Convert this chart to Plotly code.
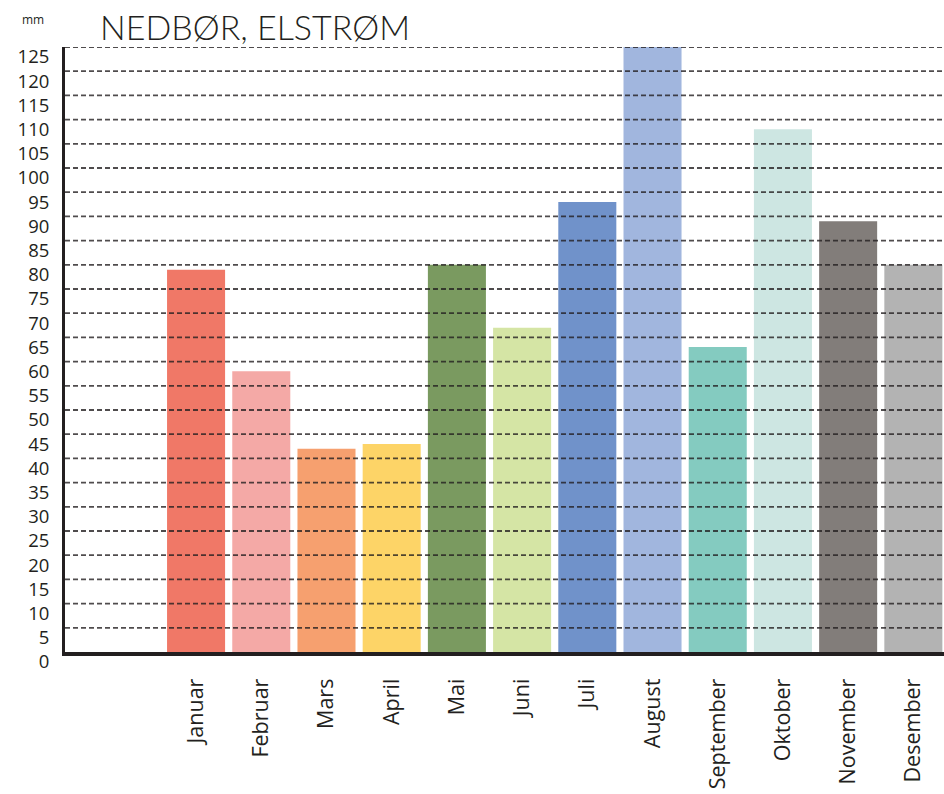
import plotly.graph_objects as go

months = ["Januar", "Februar", "Mars", "April", "Mai", "Juni", "Juli",
          "August", "September", "Oktober", "November", "Desember"]
values = [79, 58, 42, 43, 80, 67, 93, 125, 63, 108, 89, 80]
colors = ["#F07867", "#F4A9A6", "#F6A06F", "#FDD467", "#7A9A60", "#D5E5A5",
          "#7092CA", "#A1B6DE", "#84CBC0", "#CDE6E2", "#827D7A", "#B3B3B3"]
y_ticks = list(range(0, 130, 5))

fig = go.Figure(go.Bar(x=months, y=values, marker=dict(color=colors, line=dict(width=0))))

shapes = []
for t in y_ticks[1:]:
    shapes.append(dict(type="line", xref="paper", x0=0, x1=1, yref="y", y0=t, y1=t,
                       layer="above", line=dict(color="rgba(35,31,32,0.8)", width=1.8, dash="5px,3px")))

fig.update_layout(
    width=944, height=794,
    margin=dict(l=65, r=0, t=47, b=142),
    paper_bgcolor="white", plot_bgcolor="white",
    bargap=0.11,
    showlegend=False,
    shapes=shapes,
    font=dict(family="Open Sans", color="#231f20"),
    xaxis=dict(type="category", range=[-2.01, 11.47], tickangle=-90,
               showgrid=False, showline=True, linecolor="#231f20", linewidth=4,
               ticks="", tickfont=dict(size=21.5, family="Open Sans", color="#231f20"),
               ticklabelstandoff=14, layer="above traces"),
    yaxis=dict(range=[0, 125], tickvals=y_ticks, showgrid=False, zeroline=False,
               showline=True, linecolor="#231f20", linewidth=3, ticks="",
               tickfont=dict(size=18.5, family="Open Sans", color="#231f20"),
               ticklabelstandoff=9, ticklabelshift=10, layer="above traces"),
    annotations=[
        dict(text="NEDBØR, ELSTRØM", xref="paper", yref="paper", x=(98 - 65) / 879, y=1,
             xanchor="left", yanchor="bottom", yshift=-2, showarrow=False,
             font=dict(family="Lato", size=34, color="#231f20", weight=300)),
        dict(text="mm", xref="paper", yref="paper", x=-45 / 879, y=1, xanchor="left",
             yanchor="bottom", yshift=17, showarrow=False,
             font=dict(family="Open Sans", size=12, color="#231f20")),
    ],
)

fig.write_html("out.html")
